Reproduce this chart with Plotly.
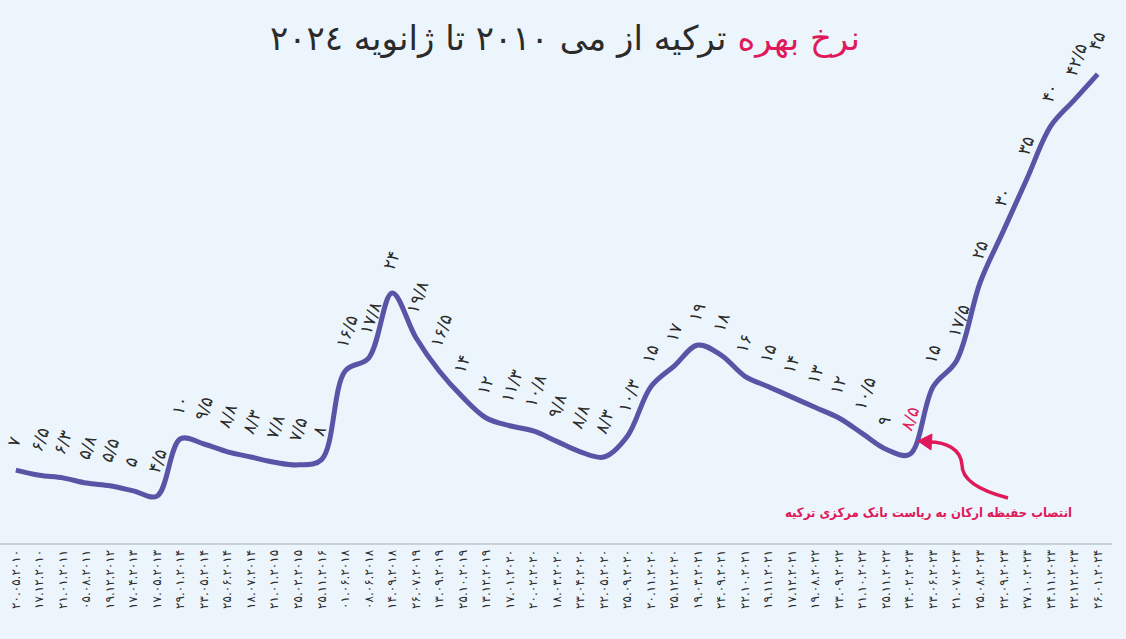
import math
from decimal import Decimal, ROUND_HALF_UP
import plotly.graph_objects as go

# Turkish policy rate at each decision date (DD.MM.YYYY)
dates = [
    "20.05.2010", "17.12.2010", "21.01.2011", "05.08.2011", "19.12.2012",
    "17.04.2013", "17.05.2013", "29.01.2014", "23.05.2014", "25.06.2014",
    "18.07.2014", "21.01.2015", "25.02.2015", "25.11.2016", "01.06.2018",
    "08.06.2018", "14.09.2018", "26.07.2019", "13.09.2019", "25.10.2019",
    "13.12.2019", "17.01.2020", "20.02.2020", "18.03.2020", "23.04.2020",
    "22.05.2020", "25.09.2020", "20.11.2020", "25.12.2020", "19.03.2021",
    "24.09.2021", "22.10.2021", "19.11.2021", "17.12.2021", "19.08.2022",
    "23.09.2022", "21.10.2022", "25.11.2022", "24.02.2023", "23.06.2023",
    "21.07.2023", "25.08.2023", "22.09.2023", "27.10.2023", "24.11.2023",
    "22.12.2023", "26.01.2024",
]
rates = [
    7, 6.5, 6.25, 5.75, 5.5, 5, 4.5, 10, 9.5, 8.75, 8.25, 7.75, 7.5, 8,
    16.5, 17.75, 24, 19.75, 16.5, 14, 12, 11.25, 10.75, 9.75, 8.75, 8.25,
    10.25, 15, 17, 19, 18, 16, 15, 14, 13, 12, 10.5, 9, 8.5,
    15, 17.5, 25, 30, 35, 40, 42.5, 45,
]
highlight_date = "24.02.2023"   # Hafize Gaye Erkan takes office

BG = "#ebf5fb"
LINE = "#5a54a6"
RED = "#e0195a"
TXT = "#2b2b2b"

fa_digits = str.maketrans("0123456789", "۰۱۲۳۴۵۶۷۸۹")


def fa(s):
    return s.translate(fa_digits)


def rate_label(v):
    d = Decimal(str(v)).quantize(Decimal("0.1"), rounding=ROUND_HALF_UP)
    s = str(d)
    if s.endswith(".0"):
        s = s[:-2]
    return fa(s.replace(".", "/"))


tick_text = [fa(d) for d in dates]

fig = go.Figure()
fig.add_trace(go.Scatter(
    x=dates, y=rates, mode="lines",
    line=dict(color=LINE, width=5, shape="spline", smoothing=1),
    hoverinfo="skip",
))

# rotated value labels above each point
ang = math.radians(70)
for d, v in zip(dates, rates):
    t = rate_label(v)
    n_dig = sum(c != "/" for c in t)
    half = (n_dig * 9.5 + (t.count("/")) * 5.5) / 2
    cx = -4 + half * math.cos(ang)
    cy = -24 - half * math.sin(ang)
    fig.add_annotation(
        x=d, y=v, text=t, showarrow=False, textangle=-70,
        xanchor="center", yanchor="middle",
        xshift=cx, yshift=-cy,
        font=dict(size=17, color=RED if d == highlight_date else TXT,
                  family="DejaVu Sans"),
    )

# layout geometry (pixels) used for the curved pointer
W, H = 1126, 639
ML, MR, MT, MB = 0, 14, 60, 96
pw, ph = W - ML - MR, H - MT - MB


def px(x, y):
    return (x - ML) / pw, (H - MB - y) / ph


def pt(x, y):
    a, b = px(x, y)
    return f"{a:.5f},{b:.5f}"


curve = (f"M {pt(1008, 498)} C {pt(985, 492)} {pt(962, 482)} {pt(962, 465)} "
         f"C {pt(961, 449)} {pt(946, 442)} {pt(929, 442)}")
fig.add_shape(type="path", xref="paper", yref="paper", path=curve,
              line=dict(color=RED, width=3.5))
head = f"M {pt(918, 441)} L {pt(932, 434)} L {pt(931, 450)} Z"
fig.add_shape(type="path", xref="paper", yref="paper", path=head,
              line=dict(color=RED, width=1), fillcolor=RED)

nx, ny = px(928, 512)
fig.add_annotation(
    xref="paper", yref="paper", x=nx, y=ny,
    text="<b>انتصاب حفیظه ارکان به ریاست بانک مرکزی ترکیه</b>",
    showarrow=False, xanchor="center", yanchor="middle",
    font=dict(size=13, color=RED, family="DejaVu Sans Condensed"),
)

fig.update_layout(
    width=W, height=H,
    paper_bgcolor=BG, plot_bgcolor=BG,
    margin=dict(l=ML, r=MR, t=MT, b=MB, autoexpand=False),
    showlegend=False,
    title=dict(
        text=f"<span style='color:{RED}'>نرخ بهره</span> ترکیه از می ۲۰۱۰ تا ژانویه ۲۰۲٤",
        x=565 / W, xref="container", xanchor="center",
        y=1 - 38 / H, yref="container", yanchor="middle",
        font=dict(size=34, color=TXT, family="DejaVu Sans"),
    ),
    xaxis=dict(
        type="category", tickmode="array", tickvals=dates, ticktext=tick_text,
        tickangle=-90, showgrid=False, zeroline=False,
        showline=True, linecolor="#c9d1d8", linewidth=2,
        ticks="", tickfont=dict(size=12, color=TXT, family="DejaVu Sans"),
        automargin=False, fixedrange=True,
    ),
    yaxis=dict(
        range=[0, (H - MB - MT) / 10.42], showgrid=False, zeroline=False,
        showticklabels=False, showline=False, automargin=False, fixedrange=True,
    ),
)

fig.write_html(
    "out.html",
    config={"displayModeBar": False},
    post_script=f"document.body.style.margin='0';document.body.style.background='{BG}';",
)
